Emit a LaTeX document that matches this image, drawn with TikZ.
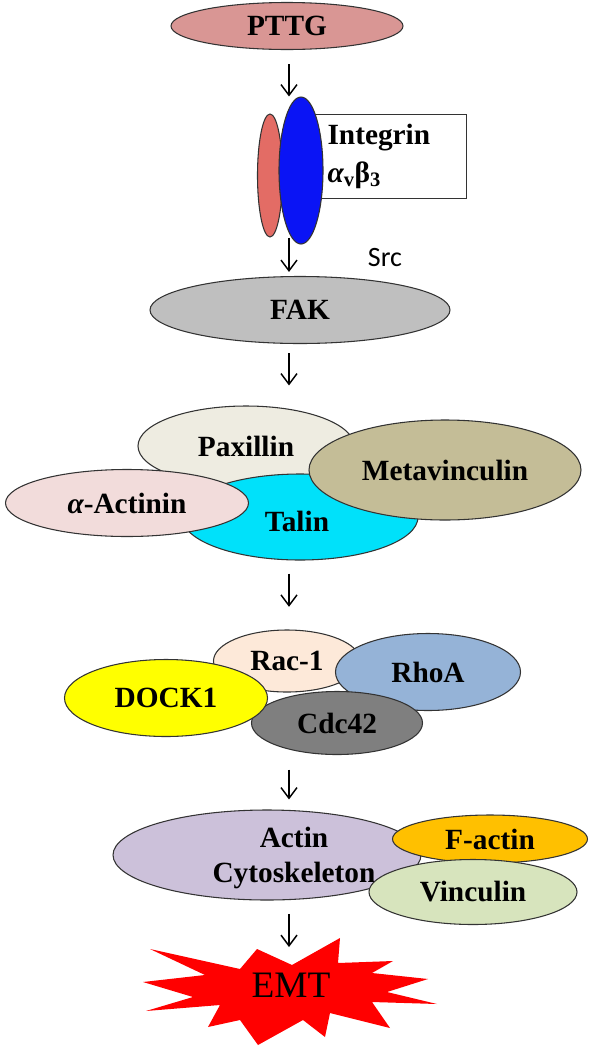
\documentclass[tikz,border=0pt]{standalone}
\usepackage{fontspec}
\setmainfont{Liberation Serif}
\newfontfamily\srcfont{Carlito}
\usepackage{xcolor}
\usetikzlibrary{shapes.geometric,arrows.meta}

\definecolor{pttgcol}{HTML}{D99694}
\definecolor{alphacol}{HTML}{E36C65}
\definecolor{betacol}{HTML}{0A14F5}
\definecolor{fakcol}{HTML}{BFBFBF}
\definecolor{paxcol}{HTML}{EEECE1}
\definecolor{metacol}{HTML}{C4BD97}
\definecolor{actinincol}{HTML}{F2DCDB}
\definecolor{talincol}{HTML}{00E1FA}
\definecolor{raccol}{HTML}{FDE9D9}
\definecolor{rhoacol}{HTML}{95B3D7}
\definecolor{dockcol}{HTML}{FFFF00}
\definecolor{cdccol}{HTML}{7F7F7F}
\definecolor{cytocol}{HTML}{CCC1DA}
\definecolor{factincol}{HTML}{FFC000}
\definecolor{vinccol}{HTML}{D7E4BD}

\begin{document}
\begin{tikzpicture}[x=0.75pt, y=-0.75pt,
            blob/.style 2 args={draw=black!80, line width=0.8pt, ellipse, inner sep=0pt,
                minimum width=#1*0.75pt, minimum height=#2*0.75pt,
                font=\fontsize{22}{26}\selectfont\bfseries},
            flow/.style={-{Straight Barb[length=8pt,width=12pt]}, line width=1.1pt}
            ]
            \useasboundingbox (0,0) rectangle (595,1050);
            \coordinate (spine) at (289,0);

            % Receptor part
            \node[blob={232}{47}, fill=pttgcol] (pttg) at (287,26) {PTTG};
            \node[draw=black!80, line width=0.8pt, anchor=north west, inner xsep=27*0.75pt,
                  minimum width=166*0.75pt, minimum height=84*0.75pt, text width=112*0.75pt,
                  align=left, font=\fontsize{22}{28}\selectfont\bfseries] (intbox) at (300,114)
                  {Integrin\\{\itshape α}\textsubscript{v}β\textsubscript{3}};
            \node[blob={25}{123}, fill=alphacol] (alpha) at (270,175.5) {};
            \node[blob={44}{147}, fill=betacol] (beta) at (301,170.5) {};
            \node[font=\srcfont\fontsize{21}{24}\selectfont] (src) at (385,258) {Src};
            \node[blob={300}{67}, fill=fakcol] (fak) at (300,310) {FAK};

            % Focal adhesion complex
            \node[blob={216}{80}, fill=paxcol] (pax) at (246,446) {Paxillin};
            \node[blob={236}{86}, fill=talincol] (talin) at (300,517) {};
            \node[font=\fontsize{22}{26}\selectfont\bfseries] (talintxt) at (297,521) {Talin};
            \node[blob={243}{67}, fill=actinincol] (actinin) at (127,503) {{\itshape α}-Actinin};
            \node[blob={272}{100}, fill=metacol] (meta) at (445,470) {Metavinculin};

            % Small GTPases
            \node[blob={147}{62}, fill=raccol] (rac) at (287,661) {Rac-1};
            \node[blob={185}{77}, fill=rhoacol] (rhoa) at (428,672) {RhoA};
            \node[blob={171}{63}, fill=cdccol] (cdc) at (337,723) {Cdc42};
            \node[blob={203}{77}, fill=dockcol] (dock) at (166,698) {DOCK1};

            % Cytoskeleton
            \node[blob={308}{90}, fill=cytocol] (cyto) at (267,855) {};
            \node[align=center, font=\fontsize{22}{26}\selectfont\bfseries] (cytotxt) at (294,858) {Actin\\Cytoskeleton};
            \node[blob={195}{48}, fill=factincol] (factin) at (490,839) {F-actin};
            \node[blob={208}{65}, fill=vinccol] (vinc) at (473,892) {Vinculin};

            % EMT burst
            \fill[red] (150,949) -- (240,969) -- (257,949) -- (292,965) -- (340,938) -- (338,963)
                -- (393,961) -- (372,973) -- (428,979) -- (387,992) -- (437,1004) -- (372,1002)
                -- (390,1028) -- (330,1013) -- (325,1037) -- (303,1020) -- (258,1045) -- (240,1020)
                -- (208,1027) -- (220,1005) -- (146,1011) -- (193,997) -- (143,982) -- (205,975) -- cycle;
            \node[font=\fontsize{28}{32}\selectfont] (emt) at (291,985) {EMT};
            \coordinate (emttop) at (289,947);

            % Arrows
            \draw[flow, shorten <=10.5pt] (pttg.south -| spine) -- (beta.north -| spine);
            \draw[flow, shorten >=3pt] (alpha.south -| spine) -- (fak.north -| spine);
            \draw[flow, shorten <=6.75pt, shorten >=15pt] (fak.south -| spine) -- (pax.north -| spine);
            \draw[flow, shorten <=9.75pt, shorten >=17pt] (talin.south -| spine) -- (rac.north -| spine);
            \draw[flow, shorten <=11pt, shorten >=7.5pt] (cdc.south -| spine) -- (cyto.north -| spine);
            \draw[flow, shorten <=10pt] (cyto.south -| spine) -- (emttop);
        \end{tikzpicture}
\end{document}
